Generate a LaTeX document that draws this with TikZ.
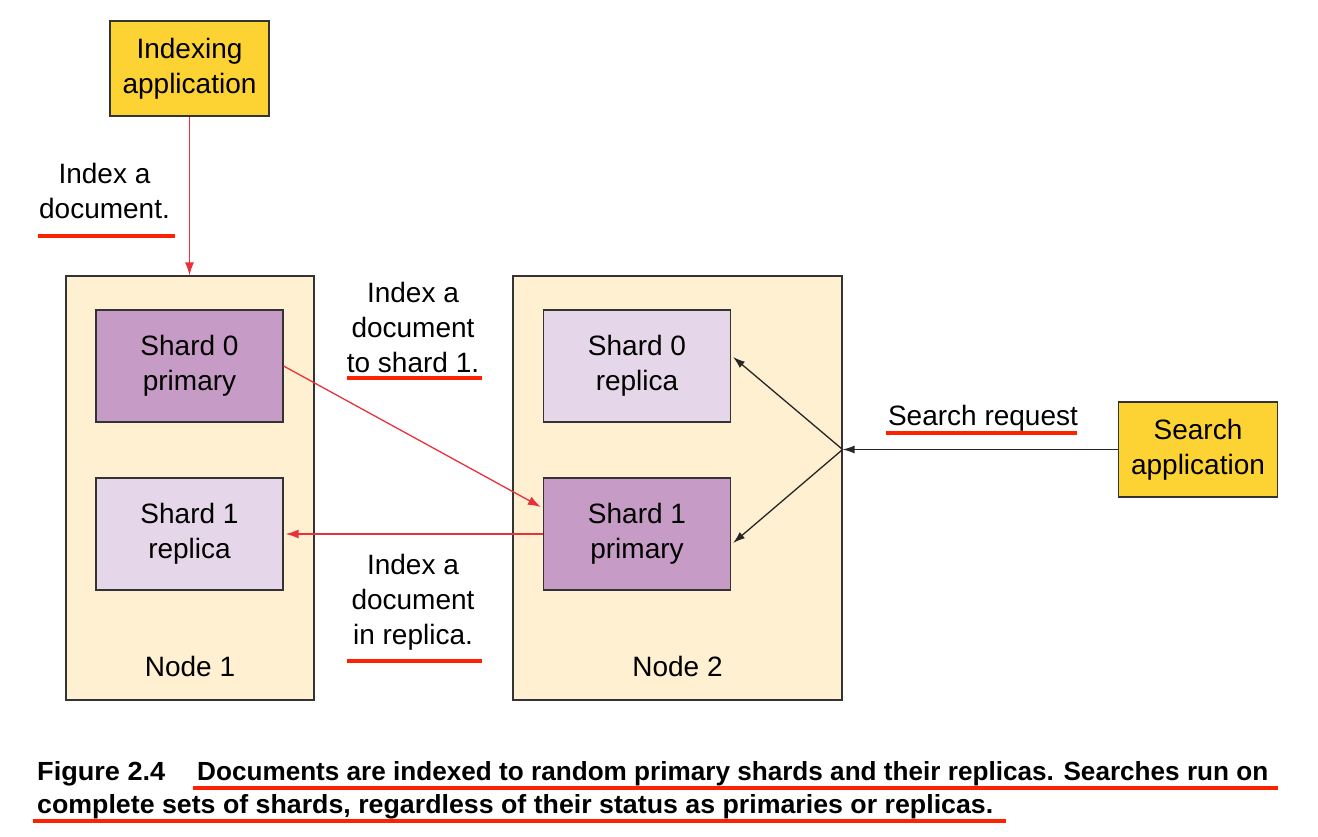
\documentclass[tikz,border=0pt]{standalone}
\usepackage{fontspec}
\usepackage{graphicx}
\setmainfont{Liberation Sans}
\usetikzlibrary{arrows.meta,calc}
\definecolor{appyellow}{HTML}{FDD333}
\definecolor{nodecream}{HTML}{FEF0D0}
\definecolor{primpurple}{HTML}{C69BC6}
\definecolor{replav}{HTML}{E6D6E9}
\definecolor{arrred}{HTML}{E8313A}
\definecolor{ulred}{HTML}{FF2200}
\tikzset{
  txt/.style={font=\fontsize{28}{35}\selectfont, align=center, inner sep=0pt},
  box/.style={draw=black!80, line width=1.2pt, inner sep=0pt, txt},
  app/.style={box, fill=appyellow, minimum width=159pt, minimum height=95pt},
  cluster/.style={box, fill=nodecream, minimum width=#1, minimum height=424pt},
  primary/.style={box, fill=primpurple, minimum width=187pt, minimum height=112pt},
  replica/.style={box, fill=replav, minimum width=187pt, minimum height=112pt},
  redarrow/.style={draw=arrred, line width=1.3pt, -{Latex[length=13pt,width=9pt]}},
  blackarrow/.style={draw=black!85, line width=1.3pt, -{Latex[length=12pt,width=8pt]}},
  uline/.style={draw=ulred, line width=4pt},
  captxt/.style={anchor=base west, inner sep=0pt},
}
\begin{document}
\begin{tikzpicture}[x=1pt,y=-1pt]
\useasboundingbox (0,0) rectangle (1318,836);
% applications
\node[app] (idx) at (189.5,68.5) {Indexing\\application};
\node[app] (srch) at (1198,449.5) {Search\\application};
% nodes
\node[cluster=248pt] (n1) at (190,488) {};
\node[cluster=329pt] (n2) at (677.5,488) {};
\node[txt] (n1lbl) at ($(n1.south)+(0,-34)$) {Node 1};
\node[txt] (n2lbl) at ($(n2.south)+(0,-34)$) {Node 2};
% shards
\node[primary] (s0p) at (189.5,366) {Shard 0\\primary};
\node[replica] (s1r) at (189.5,534) {Shard 1\\replica};
\node[replica] (s0r) at (637,366) {Shard 0\\replica};
\node[primary] (s1p) at (637,534) {Shard 1\\primary};
% connectors
\draw[redarrow] (idx.south) -- (idx.south |- n1.north);
\draw[redarrow] (s0p.east) -- ($(s1p.west)+(-2,-27)$);
\draw[redarrow] (s1p.west) -- ($(s1r.east)+(2,0)$);
\coordinate (hub) at (n2.east |- srch.west);
\draw[blackarrow] (srch.west) -- (hub);
\draw[blackarrow] (hub) -- ($(s0r.east)+(2,-9)$);
\draw[blackarrow] (hub) -- ($(s1p.east)+(2,9)$);
% labels
\node[txt] (l1) at (104.5,190.5) {Index a\\document.};
\node[txt] (l2) at (413,327) {Index a\\document\\to shard 1.};
\node[txt] (l3) at (413,602) {Index a\\document\\in replica.};
\node[txt] (l4) at (983,418) {Search request};
% underlines
\draw[uline] (38,236) -- (175,236);
\draw[uline] (347,378) -- (482,378);
\draw[uline] (347,661) -- (482,661);
\draw[uline] (886,433) -- (1077,433);
% caption
\node[captxt] (capfig) at (37,780) {\resizebox{128pt}{19pt}{\bfseries Figure 2.4}};
\node[captxt] (cap1) at (197,780) {\resizebox{1071pt}{19pt}{\bfseries Documents are indexed to random primary shards and their replicas. Searches run on}};
\node[captxt] (cap2) at (37,813) {\resizebox{956pt}{19pt}{\bfseries complete sets of shards, regardless of their status as primaries or replicas.}};
\draw[uline] (193,788) -- (1278,788);
\draw[uline] (33,821) -- (1006,821);
\end{tikzpicture}
\end{document}
